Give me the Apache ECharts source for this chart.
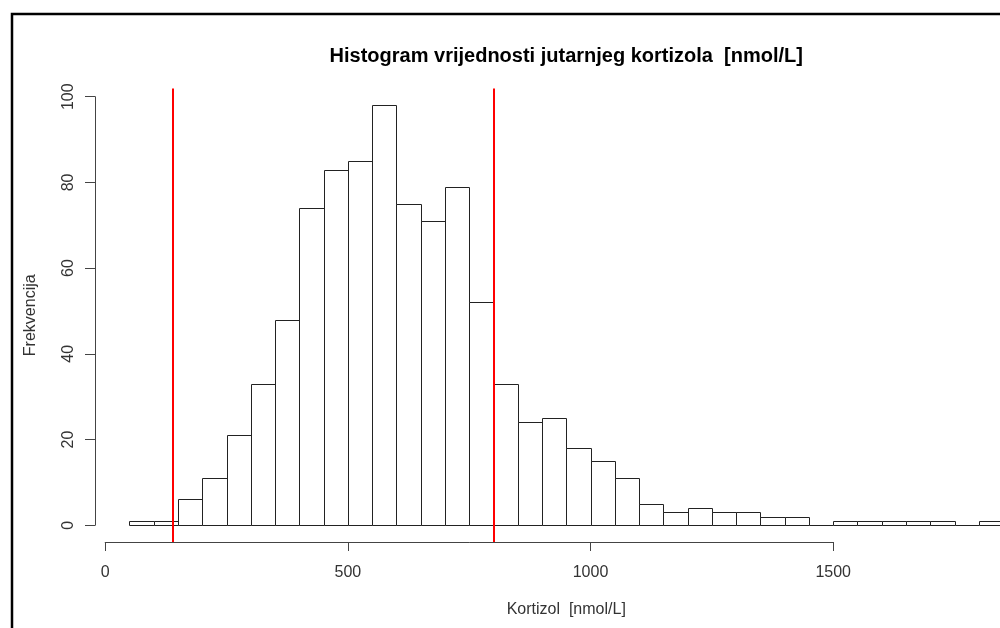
<!DOCTYPE html>
<html>
<head>
<meta charset="utf-8">
<script src="https://cdn.jsdelivr.net/npm/echarts@6/dist/echarts.min.js"></script>
<style>
html,body{margin:0;padding:0;background:#fff;}
#chart{width:1000px;height:628px;}
</style>
</head>
<body>
<div id="chart"></div>
<script>
// ---- data ----
const titleText = 'Histogram vrijednosti jutarnjeg kortizola  [nmol/L]';
const xName = 'Kortizol  [nmol/L]';
const yName = 'Frekvencija';
const breaks = [50,100,150,200,250,300,350,400,450,500,550,600,650,700,750,800,850,900,950,1000,
  1050,1100,1150,1200,1250,1300,1350,1400,1450,1500,1550,1600,1650,1700,1750,1800,1850];
const counts = [1,1,6,11,21,33,48,74,83,85,98,75,71,79,52,33,24,25,18,15,
  11,5,3,4,3,3,2,2,0,1,1,1,1,1,0,1];
const refLines = [140, 800];
const xTicks = [0, 500, 1000, 1500];
const yTicks = [0, 20, 40, 60, 80, 100];

// ---- layout (R-like plot region; its right part lies outside the picture) ----
const W = 1000, H = 628;
const plotL = 94.5, plotR = 1038, plotT = 88.5, plotB = 542;
const xMinD = breaks[0], xMaxD = breaks[breaks.length - 1];
const xPad = 0.04 * (xMaxD - xMinD);
const xmin = xMinD - xPad, xmax = xMaxD + xPad;
const cMax = Math.max(...counts);
const ymin = -0.04 * cMax, ymax = cMax * 1.04;
const xs = (plotR - plotL) / (xmax - xmin);
const ys = (plotB - plotT) / (ymax - ymin);
const px = v => plotL + (v - xmin) * xs;
const py = v => plotB - (v - ymin) * ys;
// visible part of the plot region ends at the picture edge
const xmaxVis = xmin + (W - plotL) / xs;

const binData = counts.map((c, i) => [breaks[i], breaks[i + 1], c]);

const FONT = 'Liberation Sans, Arial, sans-serif';
const TXT = '#333';
const AX = '#444';

const chart = echarts.init(document.getElementById('chart'), null, {renderer: 'canvas'});
chart.setOption({
  animation: false,
  backgroundColor: '#fff',
  grid: [
    {left: plotL, right: 0, top: plotT, bottom: H - plotB},
    {left: plotL + 0.5, width: 50, top: py(yTicks[yTicks.length - 1]), bottom: H - py(yTicks[0])},
    {left: px(xTicks[0]), right: W - px(xTicks[xTicks.length - 1]), top: plotT, bottom: H - plotB}
  ],
  xAxis: [
    {gridIndex: 0, type: 'value', min: xmin, max: xmaxVis, show: false},
    {gridIndex: 1, type: 'value', show: false},
    {gridIndex: 2, type: 'value', min: xTicks[0], max: xTicks[xTicks.length - 1],
      interval: xTicks[1] - xTicks[0], position: 'bottom',
      axisLine: {show: true, lineStyle: {color: AX, width: 1}},
      axisTick: {show: true, inside: false, length: 9, lineStyle: {color: AX, width: 1}},
      axisLabel: {show: true, margin: 23, fontFamily: FONT, fontSize: 16, color: TXT,
        showMinLabel: true, showMaxLabel: true, formatter: v => String(v)},
      splitLine: {show: false}}
  ],
  yAxis: [
    {gridIndex: 0, type: 'value', min: ymin, max: ymax, show: true,
      axisLine: {show: false}, axisTick: {show: false}, axisLabel: {show: false}, splitLine: {show: false},
      name: yName, nameLocation: 'middle', nameGap: 56,
      nameTextStyle: {fontFamily: FONT, fontSize: 16, color: TXT}},
    {gridIndex: 1, type: 'value', min: yTicks[0], max: yTicks[yTicks.length - 1],
      interval: yTicks[1] - yTicks[0], position: 'left',
      axisLine: {show: true, lineStyle: {color: AX, width: 1}},
      axisTick: {show: true, inside: false, length: 10, lineStyle: {color: AX, width: 1}},
      axisLabel: {show: true, rotate: 90, margin: 18, fontFamily: FONT, fontSize: 16, color: TXT,
        showMinLabel: true, showMaxLabel: true, formatter: v => String(v)},
      splitLine: {show: false}},
    {gridIndex: 2, type: 'value', show: false}
  ],
  graphic: [
    {type: 'rect', silent: true, z: 100,
      shape: {x: 12, y: 14, width: 1200, height: 1000},
      style: {fill: null, stroke: '#000', lineWidth: 2.5}},
    {type: 'text', silent: true, z: 100, x: (plotL + plotR) / 2, y: 56,
      style: {text: titleText, font: 'bold 20px ' + FONT, fill: '#000',
        textAlign: 'center', textVerticalAlign: 'middle'}},
    {type: 'text', silent: true, z: 100, x: (plotL + plotR) / 2, y: 610,
      style: {text: xName, font: '16px ' + FONT, fill: TXT,
        textAlign: 'center', textVerticalAlign: 'middle'}}
  ],
  series: [
    {
      type: 'custom', xAxisIndex: 0, yAxisIndex: 0, clip: false,
      data: binData,
      renderItem: function (params, api) {
        const p0 = api.coord([api.value(0), 0]);
        const p1 = api.coord([api.value(1), api.value(2)]);
        const x0 = Math.round(p0[0]) + 0.5, x1 = Math.round(p1[0]) + 0.5;
        const yb = Math.round(p0[1]) + 0.5, yt = Math.round(p1[1]) + 0.5;
        if (yb - yt < 0.5) {
          return {
            type: 'line',
            shape: {x1: x0, y1: yb, x2: x1, y2: yb},
            style: {stroke: '#222', lineWidth: 1}
          };
        }
        return {
          type: 'rect',
          shape: {x: x0, y: yt, width: x1 - x0, height: yb - yt},
          style: {fill: '#fff', stroke: '#222', lineWidth: 1}
        };
      },
      z: 2
    },
    {
      type: 'line', xAxisIndex: 0, yAxisIndex: 0, data: [], silent: true, z: 5,
      markLine: {
        silent: true, symbol: ['none', 'none'], animation: false,
        label: {show: false},
        lineStyle: {color: '#ff0000', width: 2, type: 'solid'},
        emphasis: {disabled: true},
        data: refLines.map(v => ({xAxis: v}))
      }
    }
  ]
});
</script>
</body>
</html>
